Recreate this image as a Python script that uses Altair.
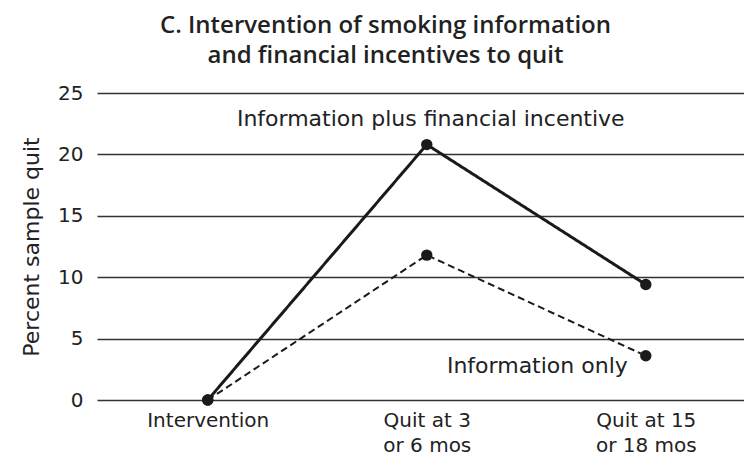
import altair as alt
import pandas as pd

categories = ["Intervention", "Quit at 3|or 6 mos", "Quit at 15|or 18 mos"]
info_plus = [0, 20.8, 9.4]
info_only = [0, 11.8, 3.6]
series_names = ["Information plus financial incentive", "Information only"]

rows = []
for c, v in zip(categories, info_plus):
    rows.append({"cat": c, "val": v, "series": series_names[0]})
for c, v in zip(categories, info_only):
    rows.append({"cat": c, "val": v, "series": series_names[1]})
df = pd.DataFrame(rows)

ann = pd.DataFrame([
    {"label": series_names[0], "cat": categories[1], "val": 22.9},
    {"label": series_names[1], "cat": categories[2], "val": 2.8},
])

FONT = "DejaVu Sans"
TXT = "#222222"

x = alt.X("cat:N", sort=categories, title=None,
          scale=alt.Scale(type="point", padding=0.477, align=0.53),
          axis=alt.Axis(labelExpr="split(datum.label, '|')", labelAngle=0,
                        domain=False, ticks=False, grid=False,
                        labelFontSize=20, labelFont=FONT, labelColor=TXT,
                        labelPadding=10, labelLineHeight=25))
y = alt.Y("val:Q", title="Percent sample quit",
          scale=alt.Scale(domain=[0, 25], nice=False),
          axis=alt.Axis(values=[0, 5, 10, 15, 20, 25], domain=False, ticks=False,
                        grid=True, gridColor="#333333", gridWidth=1.5, gridOpacity=1,
                        labelFontSize=20, labelFont=FONT, labelColor=TXT, labelPadding=14,
                        titleFontSize=22, titleFont=FONT, titleColor=TXT,
                        titleFontWeight="normal", titlePadding=14))

dash = alt.StrokeDash("series:N", sort=series_names,
                      scale=alt.Scale(domain=series_names, range=[[1, 0], [7, 4]]),
                      legend=None)
sw = alt.StrokeWidth("series:N",
                     scale=alt.Scale(domain=series_names, range=[3, 2]), legend=None)

lines = alt.Chart(df).mark_line(color="#1a1a1a").encode(x=x, y=y, strokeDash=dash,
                                                         strokeWidth=sw, detail="series:N")
points = alt.Chart(df).mark_point(filled=True, color="#1a1a1a", size=130, opacity=1).encode(
    x=x, y=y, detail="series:N")

t1 = alt.Chart(ann.iloc[[0]]).mark_text(font=FONT, fontSize=22, color=TXT, align="center",
                                         dx=4).encode(x=x, y=y, text="label:N")
t2 = alt.Chart(ann.iloc[[1]]).mark_text(font=FONT, fontSize=22, color=TXT, align="right",
                                         dx=-18).encode(x=x, y=y, text="label:N")

chart = alt.layer(lines, points, t1, t2).properties(
    width=647, height=307,
    title=alt.TitleParams(["C. Intervention of smoking information",
                           "and financial incentives to quit"],
                          font="Open Sans", fontSize=24, fontWeight=600, color=TXT,
                          lineHeight=30, offset=15, dx=-35, anchor="middle"),
    autosize=alt.AutoSizeParams(type="none"),
    padding={"left": 89, "top": 85, "right": 0, "bottom": 58},
).configure_view(stroke=None)

chart.save("out.html", embed_options={"renderer": "svg", "actions": False})
